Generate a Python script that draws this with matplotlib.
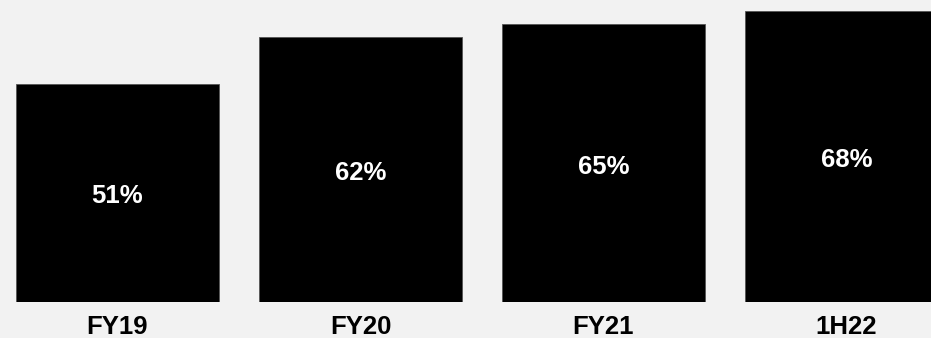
import matplotlib.pyplot as plt

periods = ['FY19', 'FY20', 'FY21', '1H22']
shares = [51, 62, 65, 68]


def main():
    plt.rcParams['font.family'] = ['Liberation Sans', 'DejaVu Sans']
    fig = plt.figure(figsize=(9.31, 3.38), dpi=100, facecolor='#f2f2f2')
    ax = fig.add_axes([0, 36 / 338, 1, 302 / 338])
    ax.set_facecolor('#f2f2f2')

    x = range(len(periods))
    ax.bar(x, shares, width=0.835, color='black', edgecolor='#555555', linewidth=0.6)
    for i, v in zip(x, shares):
        ax.annotate(f'{v}%', (i, v / 2), xytext=(0, -2.5), textcoords='offset points',
                    color='white', ha='center', va='center',
                    fontsize=18.5, fontweight='bold')

    ax.set_xlim(-117.5 / 243, (931 - 117.5) / 243)
    ax.set_ylim(0, 302 / 4.275)
    ax.set_xticks(list(x))
    ax.set_xticklabels(periods, fontsize=18.5, fontweight='bold')
    ax.tick_params(axis='x', length=0, pad=9)
    ax.set_yticks([])
    for s in ax.spines.values():
        s.set_visible(False)

    fig.savefig('out.png', dpi=100, facecolor=fig.get_facecolor())


if __name__ == '__main__':
    main()
